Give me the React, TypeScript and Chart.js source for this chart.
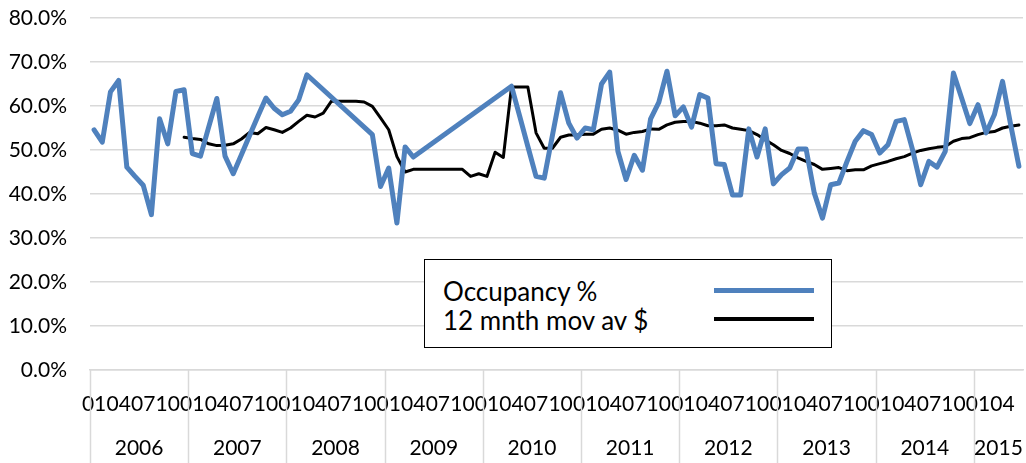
import React, { useEffect, useRef } from 'react';
import { Chart, registerables } from 'chart.js';

Chart.register(...registerables);

const YEARS = ['2006', '2007', '2008', '2009', '2010', '2011', '2012', '2013', '2014', '2015'];
const MONTHS = ['01', '02', '03', '04', '05', '06', '07', '08', '09', '10', '11', '12'];
const MONTHS_IN_2015 = 6;
const CATEGORIES: string[] = [];
YEARS.forEach((y, yi) => {
  const n = yi === YEARS.length - 1 ? MONTHS_IN_2015 : 12;
  for (let m = 0; m < n; m++) CATEGORIES.push(y + '-' + MONTHS[m]);
});

const SERIES_NAMES = ['Occupancy %', '12 mnth mov av $'];

// Occupancy % (monthly, Jan 2006 - Jun 2015); null = no data (line spans gap)
const OCCUPANCY: (number | null)[] = [
  // 2006
  54.6, 51.8, 63.2, 65.8, 46.1, 44.0, 42.0, 35.3, 57.1, 51.4, 63.3, 63.7,
  // 2007
  49.2, 48.6, 55.2, 61.7, 48.6, 44.6, 48.9, 53.3, 57.6, 61.8, 59.5, 58.0,
  // 2008
  58.8, 61.4, 67.1, null, null, null, null, null, null, null, 53.5, 41.7,
  // 2009
  45.9, 33.4, 50.7, 48.4, null, null, null, null, null, null, null, null,
  // 2010
  null, null, null, 64.5, 57.7, 50.8, 44.0, 43.6, 53.3, 63.0, 56.1, 52.7,
  // 2011
  55.0, 54.6, 65.0, 67.7, 49.7, 43.3, 48.8, 45.4, 57.1, 60.8, 67.9, 57.8,
  // 2012
  59.8, 55.2, 62.6, 61.8, 46.9, 46.7, 39.8, 39.8, 54.8, 48.4, 54.8, 42.3,
  // 2013
  44.4, 45.9, 50.2, 50.2, 40.2, 34.5, 42.1, 42.5, 47.4, 52.0, 54.4, 53.5,
  // 2014
  49.3, 51.2, 56.5, 56.9, 50.1, 42.1, 47.4, 46.1, 49.7, 67.5, 61.8, 56.0,
  // 2015
  60.3, 53.9, 58.0, 65.6, 55.7, 46.3,
];

// 12 month moving average
const MOVING_AVG: (number | null)[] = [
  // 2006
  null, null, null, null, null, null, null, null, null, null, null, 52.9,
  // 2007
  52.6, 52.4, 51.4, 51.0, 51.1, 51.4, 52.5, 54.0, 53.7, 55.1, 54.6, 54.0,
  // 2008
  55.0, 56.5, 57.9, 57.5, 58.4, 61.1, 61.1, 61.1, 61.1, 60.9, 59.9, 57.3,
  // 2009
  54.6, 48.5, 45.0, 45.6, 45.6, 45.6, 45.6, 45.6, 45.6, 45.6, 44.0, 44.6,
  // 2010
  44.0, 49.5, 48.3, 64.3, 64.3, 64.3, 53.9, 50.4, 50.4, 52.9, 53.4, 53.4,
  // 2011
  53.6, 53.6, 54.7, 55.0, 54.5, 53.6, 54.0, 54.2, 54.8, 54.7, 55.7, 56.3,
  // 2012
  56.5, 56.5, 56.1, 55.5, 55.5, 55.7, 55.0, 54.7, 54.4, 53.5, 52.3, 51.2,
  // 2013
  49.9, 49.2, 48.2, 47.4, 46.7, 45.6, 45.8, 46.0, 45.3, 45.5, 45.5, 46.4,
  // 2014
  46.9, 47.4, 48.0, 48.5, 49.3, 49.9, 50.3, 50.6, 50.8, 52.0, 52.6, 52.8,
  // 2015
  53.5, 54.0, 54.2, 55.0, 55.4, 55.7,
];

const TICK_MONTHS = ['01', '04', '07', '10'];
const Y_MIN = 0;
const Y_MAX = 80;
const Y_STEP = 10;

const FONT = 'Lato, "Open Sans", sans-serif';
const BLUE = '#4F81BD';
const GRID = '#D9D9D9';

const yearPlugin = {
  id: 'yearRow',
  afterDraw(chart: any) {
    const { ctx, chartArea } = chart;
    const n = CATEGORIES.length;
    const w = (chartArea.right - chartArea.left) / n;
    ctx.save();
    ctx.strokeStyle = GRID;
    ctx.lineWidth = 1.5;
    let start = 0;
    YEARS.forEach((y) => {
      const count = CATEGORIES.filter((c) => c.startsWith(y)).length;
      const x0 = chartArea.left + start * w;
      ctx.beginPath();
      ctx.moveTo(Math.round(x0) + 0.5, chartArea.bottom);
      ctx.lineTo(Math.round(x0) + 0.5, chart.height);
      ctx.stroke();
      ctx.fillStyle = '#000';
      ctx.font = '21px ' + FONT;
      ctx.textAlign = 'center';
      ctx.textBaseline = 'middle';
      ctx.fillText(y, x0 + (count * w) / 2, 448);
      start += count;
    });
    ctx.restore();
  },
};

export default function App() {
  const ref = useRef<HTMLCanvasElement | null>(null);
  useEffect(() => {
    if (!ref.current) return;
    const chart = new Chart(ref.current, {
      type: 'line',
      data: {
        labels: CATEGORIES,
        datasets: [
          {
            label: SERIES_NAMES[0],
            data: OCCUPANCY,
            borderColor: BLUE,
            backgroundColor: BLUE,
            borderWidth: 5,
            pointRadius: 0,
            tension: 0,
            spanGaps: true,
            borderJoinStyle: 'round',
            borderCapStyle: 'round',
          },
          {
            label: SERIES_NAMES[1],
            data: MOVING_AVG,
            borderColor: '#000',
            backgroundColor: '#000',
            borderWidth: 3,
            pointRadius: 0,
            tension: 0,
            spanGaps: true,
            borderJoinStyle: 'round',
            borderCapStyle: 'round',
          },
        ],
      },
      options: {
        responsive: false,
        animation: false,
        layout: { padding: { top: 18, right: 3, left: 0, bottom: 0 } },
        plugins: { legend: { display: false }, tooltip: { enabled: false } },
        scales: {
          x: {
            type: 'category',
            offset: true,
            grid: { display: false },
            border: { display: true, color: GRID, width: 1.5 },
            ticks: {
              autoSkip: false,
              maxRotation: 0,
              minRotation: 0,
              padding: 14,
              color: '#000',
              font: { family: FONT, size: 21 },
              callback: (_v: any, i: number) => {
                const m = CATEGORIES[i].slice(5);
                return TICK_MONTHS.includes(m) ? m : '';
              },
            },
            afterFit: (s: any) => {
              s.height = 93;
              s.paddingLeft = 0;
              s.paddingRight = 0;
            },
          },
          y: {
            min: Y_MIN,
            max: Y_MAX,
            border: { display: false },
            grid: { color: GRID, lineWidth: 1.5, drawTicks: false },
            ticks: {
              stepSize: Y_STEP,
              padding: 23,
              color: '#000',
              font: { family: FONT, size: 21 },
              callback: (v: any) => Number(v).toFixed(1) + '%',
            },
            afterFit: (s: any) => {
              s.width = 90;
              s.paddingTop = 0;
              s.paddingBottom = 0;
            },
          },
        },
      },
      plugins: [yearPlugin],
    });
    return () => chart.destroy();
  }, []);

  const legendText: React.CSSProperties = {
    position: 'absolute',
    left: 18,
    fontFamily: FONT,
    fontSize: 26,
    lineHeight: '30px',
    color: '#000',
    whiteSpace: 'nowrap',
  };
  const legendLine: React.CSSProperties = {
    position: 'absolute',
    left: 289,
    width: 100,
  };

  return (
    <div style={{ position: 'absolute', left: 0, top: 0, width: 1026, height: 463, background: '#fff' }}>
      <canvas ref={ref} width={1026} height={463} style={{ display: 'block' }} />
      <div
        style={{
          position: 'absolute',
          left: 424,
          top: 259,
          width: 406,
          height: 87,
          border: '1.5px solid #000',
          background: '#fff',
        }}
      >
        <div style={{ ...legendText, top: 16 }}>{SERIES_NAMES[0]}</div>
        <div style={{ ...legendText, top: 45 }}>{SERIES_NAMES[1]}</div>
        <div style={{ ...legendLine, top: 28, height: 5, background: BLUE }} />
        <div style={{ ...legendLine, top: 57, height: 4, background: '#000' }} />
      </div>
    </div>
  );
}
